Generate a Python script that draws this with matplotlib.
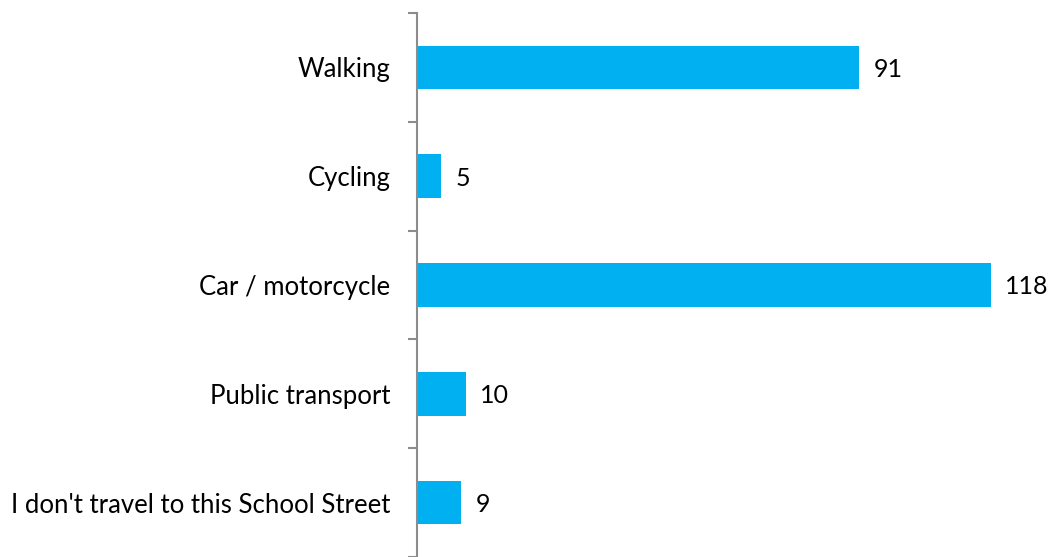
import matplotlib.pyplot as plt
import numpy as np

categories = ["Walking", "Cycling", "Car / motorcycle", "Public transport",
              "I don't travel to this School Street"]
counts = [91, 5, 118, 10, 9]

plt.rcParams['font.family'] = ['Lato', 'DejaVu Sans']

fig = plt.figure(figsize=(10.54, 5.57), dpi=100)
ax = fig.add_axes([417 / 1054, 0, 632 / 1054, 544 / 557])

y = np.arange(len(categories))
bars = ax.barh(y, counts, height=0.4, color="#00B0F0")
ax.set_ylim(len(categories) - 0.5, -0.5)
ax.set_xlim(0, 130)

for b, v in zip(bars, counts):
    ax.annotate(str(v), (b.get_width(), b.get_y() + b.get_height() / 2),
                xytext=(10.5, 0), textcoords="offset points",
                va="center_baseline", ha="left", fontsize=18)

ax.set_yticks(y)
ax.set_yticklabels(categories, fontsize=18.5)
ax.set_yticks(np.arange(len(categories) + 1) - 0.5, minor=True)
ax.tick_params(axis="y", which="major", length=0, pad=19)
ax.tick_params(axis="y", which="minor", length=6.5, width=1.5, color="#8c8c8c")
ax.set_xticks([])
for s in ["top", "right", "bottom"]:
    ax.spines[s].set_visible(False)
ax.spines["left"].set_color("#8c8c8c")
ax.spines["left"].set_linewidth(1.5)

fig.savefig("out.png", dpi=100)
